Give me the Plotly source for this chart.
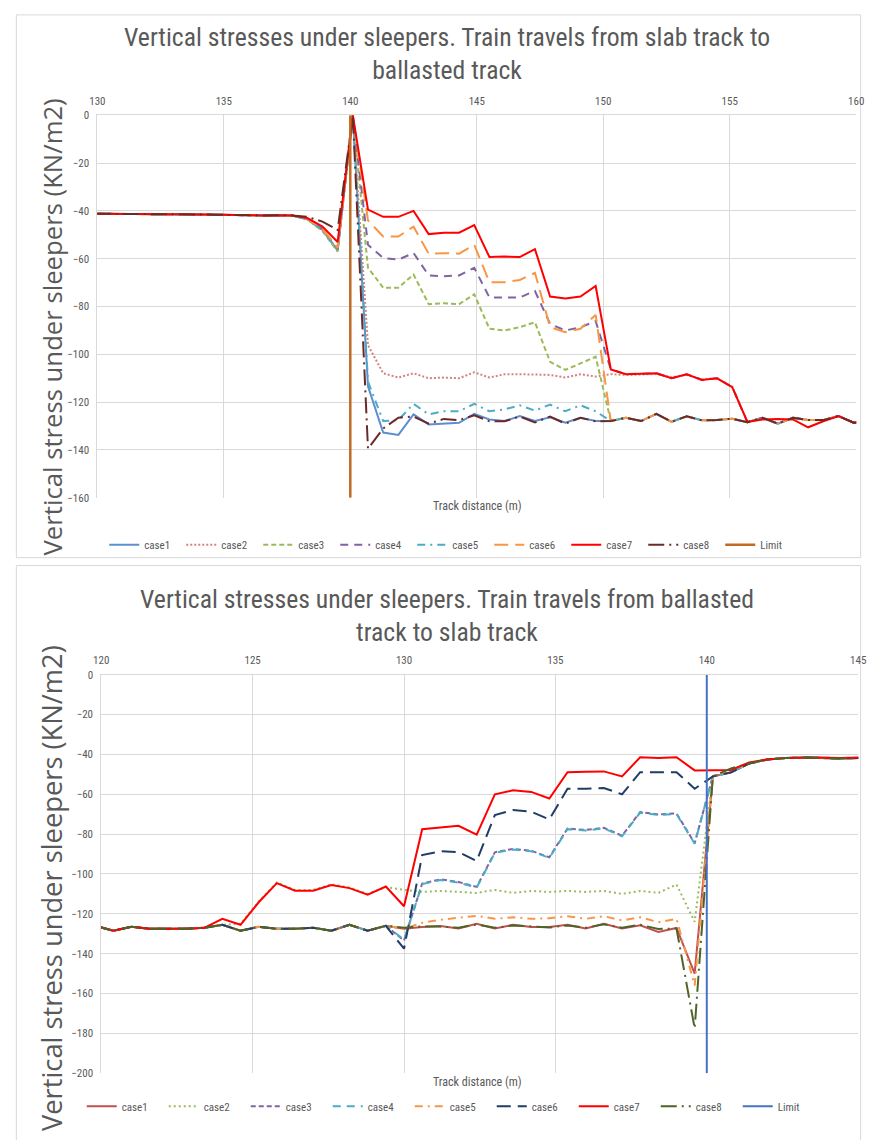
import plotly.graph_objects as go

W, H = 875, 1140

# ---------------- Chart 1: slab track -> ballasted track ----------------
top_x = [129.9, 130.5, 131.1, 131.7, 132.3, 132.9, 133.5, 134.1, 134.7, 135.3,
         135.9, 136.5, 137.1, 137.7, 138.3, 138.9, 139.5, 140.1, 140.7, 141.3,
         141.9, 142.5, 143.1, 143.7, 144.3, 144.9, 145.5, 146.1, 146.7, 147.3,
         147.9, 148.5, 149.1, 149.7, 150.3, 150.9, 151.5, 152.1, 152.7, 153.3,
         153.9, 154.5, 155.1, 155.7, 156.3, 156.9, 157.5, 158.1, 158.7, 159.3,
         159.9, 160.5]

# stresses on the slab side, common to every case
top_slab = [-41.2, -41.2, -41.3, -41.2, -41.3, -41.3, -41.4, -41.5, -41.6, -41.8,
            -41.9, -41.9, -41.8, -41.9]
# stresses far into the ballasted track (150.3 m onward)
top_ballast = [-127.9, -126.5, -127.9, -124.9, -128.2, -125.9, -127.6, -127.5, -126.9,
               -128.4, -126.5, -129.0, -126.5, -127.5, -127.5, -125.8, -128.6, -128.0]

top_case1 = top_slab + [-43.5, -48.0, -56.5, 0.0,
                        -113.4, -132.7, -133.7, -125.1, -129.3, -129.0, -128.6, -124.9,
                        -127.2, -127.9, -125.8, -127.9, -126.3, -128.6, -126.5, -127.9] + top_ballast
top_case2 = top_slab + [-43.5, -48.0, -56.5, 0.0,
                        -96.2, -107.9, -109.7, -107.9, -110.0, -109.7, -110.0, -107.5,
                        -109.7, -108.3, -108.3, -108.6, -108.6, -109.7, -108.3, -109.3,
                        -108.3, -108.6, -108.3, -108.2, -109.6, -108.6, -110.4, -110.0,
                        -113.5] + top_ballast[9:]
top_case3 = top_slab + [-43.5, -48.5, -57.0, 0.0,
                        -63.8, -72.1, -72.1, -66.6, -79.0, -78.6, -79.0, -74.9,
                        -89.3, -90.0, -88.6, -86.6, -103.1, -106.5, -103.8, -101.0] + top_ballast
top_case4 = top_slab + [-43.3, -47.5, -56.0, 0.0,
                        -54.2, -59.7, -60.4, -57.6, -67.0, -67.3, -67.0, -63.8,
                        -76.2, -76.2, -76.2, -73.5, -87.3, -90.0, -88.7, -86.1,
                        -106.3, -108.3, -108.1, -107.9, -110.0, -108.3, -110.7, -110.0,
                        -113.7] + top_ballast[9:]
top_case5 = top_slab + [-43.5, -48.0, -56.5, 0.0,
                        -111.4, -127.9, -127.5, -120.7, -125.1, -123.8, -123.8, -120.7,
                        -123.8, -123.0, -121.3, -123.5, -121.0, -123.8, -121.3, -123.8] + top_ballast
top_case6 = top_slab + [-43.3, -47.5, -55.5, 0.0,
                        -44.0, -50.7, -50.7, -46.6, -57.9, -57.7, -57.9, -54.2,
                        -69.8, -69.8, -68.9, -65.9, -88.6, -90.7, -89.3, -83.5] + top_ballast
top_case7 = top_slab + [-43.0, -46.5, -53.0, 0.0,
                        -39.5, -42.5, -42.5, -40.0, -49.7, -49.1, -49.1, -45.9,
                        -59.3, -59.1, -59.3, -56.0, -75.8, -76.6, -75.8, -71.4,
                        -106.3, -108.3, -108.1, -107.9, -110.0, -108.3, -110.7, -110.0,
                        -113.7, -128.2, -127.2, -127.0, -127.2, -130.5, -128.0, -125.8,
                        -128.6, -128.0]
top_case8 = top_slab + [-42.5, -44.5, -48.0, 0.0,
                        -139.5, -131.0, -126.5, -126.0, -129.0, -127.0, -127.5, -125.5,
                        -128.0, -128.0, -126.0, -128.5, -126.0, -129.0, -126.5, -128.0] + top_ballast
top_limit_x = [140.0, 140.0]
top_limit_y = [0.0, -160.0]

# ---------------- Chart 2: ballasted track -> slab track ----------------
bot_x = [119.8, 120.4, 121.0, 121.6, 122.2, 122.8, 123.4, 124.0, 124.6, 125.2,
         125.8, 126.4, 127.0, 127.6, 128.2, 128.8, 129.4, 130.0, 130.6, 131.2,
         131.8, 132.4, 133.0, 133.6, 134.2, 134.8, 135.4, 136.0, 136.6, 137.2,
         137.8, 138.4, 139.0, 139.6, 140.2, 140.8, 141.4, 142.0, 142.6, 143.2,
         143.8, 144.4, 145.0, 145.6]

# stresses on the ballasted side up to 129.4 m, common to most cases
bot_ballast = [-126.0, -128.5, -126.5, -127.5, -127.5, -127.5, -127.0, -125.5, -128.5,
               -126.5, -127.5, -127.5, -127.0, -128.5, -125.5, -128.5, -126.0]
# stresses on the slab side from 140.2 m onward
bot_slab = [-51.0, -49.0, -44.5, -42.5, -41.8, -41.5, -41.8, -42.0, -41.8, -42.0]

bot_case1 = bot_ballast + [-127.5,
                           -126.6, -126.1, -127.4, -125.0, -127.4, -125.5, -126.6, -126.6,
                           -125.5, -127.4, -125.0, -127.4, -125.8, -129.1, -127.1,
                           -150.0] + bot_slab
bot_case2 = bot_ballast[:8] + [-125.0, -113.8, -104.3, -108.0, -108.0, -105.2, -106.8,
                               -110.0, -106.6,
                               -108.0,
                               -109.0, -108.5, -109.0, -109.5, -108.0, -109.5, -108.5, -109.0,
                               -108.5, -109.0, -108.5, -110.0, -108.5, -109.5, -105.3,
                               -124.0] + bot_slab
bot_case3 = bot_ballast + [-133.4,
                           -104.8, -102.7, -104.0, -106.5, -89.1, -87.4, -88.3, -91.6,
                           -77.2, -77.9, -76.8, -80.8, -68.9, -70.1, -69.6,
                           -84.5] + bot_slab
bot_case4 = bot_ballast + [-133.0,
                           -105.1, -103.0, -104.3, -106.8, -89.4, -87.7, -88.6, -91.9,
                           -77.5, -78.2, -77.1, -81.1, -69.2, -70.4, -69.9,
                           -84.8] + bot_slab
bot_case5 = bot_ballast + [-127.5,
                           -124.5, -123.0, -122.0, -121.0, -122.5, -121.7, -122.5, -122.2,
                           -121.2, -122.5, -121.2, -123.3, -121.7, -124.2, -122.5,
                           -156.0] + bot_slab
bot_case6 = bot_ballast + [-137.5,
                           -90.5, -88.6, -89.0, -93.5, -70.4, -67.9, -68.7, -72.6,
                           -57.2, -57.2, -56.8, -60.0, -48.9, -48.9, -48.9,
                           -57.2] + bot_slab
bot_case7 = bot_ballast[:7] + [-122.5, -125.5, -114.2, -104.6, -108.4, -108.4, -105.5,
                               -107.1, -110.4, -106.3,
                               -116.2,
                               -77.5, -76.8, -75.8, -80.3, -60.0, -58.0, -58.8, -62.1,
                               -48.9, -48.7, -48.5, -51.0, -41.4, -41.8, -41.4,
                               -48.0, -48.0, -47.8, -44.0, -42.5, -41.8, -41.5, -41.5,
                               -41.8, -41.5, -41.8]
bot_case8 = bot_ballast + [-127.0,
                           -126.3, -126.4, -127.0, -125.3, -127.0, -125.8, -126.3, -126.9,
                           -125.8, -127.0, -125.3, -127.0, -125.5, -127.6, -127.4,
                           -177.5, -51.0, -47.0] + bot_slab[2:]
bot_limit_x = [140.0, 140.0]
bot_limit_y = [0.0, -200.0]

names = ["case1", "case2", "case3", "case4", "case5", "case6", "case7", "case8"]

top_series = [top_case1, top_case2, top_case3, top_case4,
              top_case5, top_case6, top_case7, top_case8]
top_colors = ["#5B8FD0", "#D4827C", "#9BBB59", "#8064A2",
              "#4BACC6", "#F79646", "#FF0000", "#6B2A28"]
top_dashes = ["solid", "2px,2px", "5px,3px", "8px,6px",
              "8px,5px,2px,5px", "14px,7px", "solid", "16px,5px,2px,5px"]

bot_series = [bot_case1, bot_case2, bot_case3, bot_case4,
              bot_case5, bot_case6, bot_case7, bot_case8]
bot_colors = ["#C0504D", "#9BBB59", "#8064A2", "#4BACC6",
              "#F79646", "#1F3D66", "#FF0000", "#4F6228"]
bot_dashes = ["solid", "2px,3px", "5px,3px", "8px,6px",
              "8px,5px,2px,5px", "14px,7px", "solid", "16px,5px,2px,5px"]

GREY = "#595959"
GRID = "#D9D9D9"
NARROW = "Liberation Sans Narrow, Roboto Condensed, Arial Narrow, Liberation Sans, sans-serif"
WIDE = "Open Sans, Noto Sans, DejaVu Sans, sans-serif"

fig = go.Figure()

for name, ys, c, d in zip(names, top_series, top_colors, top_dashes):
    fig.add_trace(go.Scatter(x=top_x, y=ys, mode="lines", name=name,
                             line=dict(color=c, width=2, dash=d),
                             xaxis="x", yaxis="y", legend="legend"))
fig.add_trace(go.Scatter(x=top_limit_x, y=top_limit_y, mode="lines", name="Limit",
                         line=dict(color="#C06A22", width=2.5),
                         xaxis="x", yaxis="y", legend="legend"))

for name, ys, c, d in zip(names, bot_series, bot_colors, bot_dashes):
    fig.add_trace(go.Scatter(x=bot_x, y=ys, mode="lines", name=name,
                             line=dict(color=c, width=2, dash=d),
                             xaxis="x2", yaxis="y2", legend="legend2"))
fig.add_trace(go.Scatter(x=bot_limit_x, y=bot_limit_y, mode="lines", name="Limit",
                         line=dict(color="#4472C4", width=2),
                         xaxis="x2", yaxis="y2", legend="legend2"))


def px(x):
    """Pixel column -> paper fraction."""
    return x / W


def py(y):
    """Pixel row -> paper fraction."""
    return 1 - y / H


axis_common = dict(showgrid=True, gridcolor=GRID, gridwidth=1, zeroline=False,
                   showline=True, linecolor=GRID, linewidth=1,
                   ticks="outside", ticklen=5, tickcolor="rgba(0,0,0,0)",
                   tickfont=dict(family=NARROW, size=11, color=GREY))

legend_common = dict(orientation="h", xanchor="center", yanchor="middle",
                     font=dict(family=NARROW, size=11, color=GREY),
                     bgcolor="rgba(0,0,0,0)", itemwidth=30, tracegroupgap=0)

fig.update_layout(
    width=W, height=H,
    margin=dict(l=0, r=0, t=0, b=0),
    paper_bgcolor="white", plot_bgcolor="white",
    showlegend=True,
    xaxis=dict(domain=[px(91), px(864)], anchor="y", side="top",
               range=[130, 160], tick0=130, dtick=5, **axis_common),
    yaxis=dict(domain=[py(497.5), py(110.5)], anchor="x",
               range=[-160, 0], tick0=0, dtick=20, **axis_common),
    xaxis2=dict(domain=[px(95), px(866)], anchor="y2", side="top",
                range=[120, 145], tick0=120, dtick=5, **axis_common),
    yaxis2=dict(domain=[py(1079.5), py(676.5)], anchor="x2",
                range=[-200, 0], tick0=0, dtick=20, **axis_common),
    legend=dict(x=px(451), y=py(545), entrywidth=32, **legend_common),
    legend2=dict(x=px(451), y=py(1113), entrywidth=37, **legend_common),
)

# chart frames
fig.add_shape(type="rect", xref="paper", yref="paper",
              x0=px(8.5), x1=px(868.5), y0=py(558), y1=py(9),
              line=dict(color=GRID, width=1), layer="below")
fig.add_shape(type="rect", xref="paper", yref="paper",
              x0=px(8.5), x1=px(868.5), y0=py(1160), y1=py(566),
              line=dict(color=GRID, width=1), layer="below")

title_font = dict(family=NARROW, size=25.7, color=GREY)
fig.add_annotation(xref="paper", yref="paper", x=px(447), y=py(48.5),
                   text="Vertical stresses under sleepers. Train travels from slab track to<br>ballasted track",
                   showarrow=False, font=title_font, xanchor="center", yanchor="middle")
fig.add_annotation(xref="paper", yref="paper", x=px(447), y=py(617),
                   text="Vertical stresses under sleepers. Train travels from ballasted<br>track to slab track",
                   showarrow=False, font=title_font, xanchor="center", yanchor="middle")

ytitle = "Vertical stress under sleepers (KN/m2)"
fig.add_annotation(xref="paper", yref="paper", x=px(45), y=py(325), text=ytitle,
                   textangle=-90, showarrow=False, xanchor="center", yanchor="middle",
                   font=dict(family=WIDE, size=25.7, color=GREY))
fig.add_annotation(xref="paper", yref="paper", x=px(45), y=py(892), text=ytitle,
                   textangle=-90, showarrow=False, xanchor="center", yanchor="middle",
                   font=dict(family=WIDE, size=27.3, color=GREY))

xtitle_font = dict(family=NARROW, size=12, color=GREY)
fig.add_annotation(xref="paper", yref="paper", x=px(478), y=py(506),
                   text="Track distance (m)", showarrow=False, font=xtitle_font,
                   xanchor="center", yanchor="middle")
fig.add_annotation(xref="paper", yref="paper", x=px(478), y=py(1088),
                   text="Track distance (m)", showarrow=False, font=xtitle_font,
                   xanchor="center", yanchor="middle")

fig.write_html("out.html")
